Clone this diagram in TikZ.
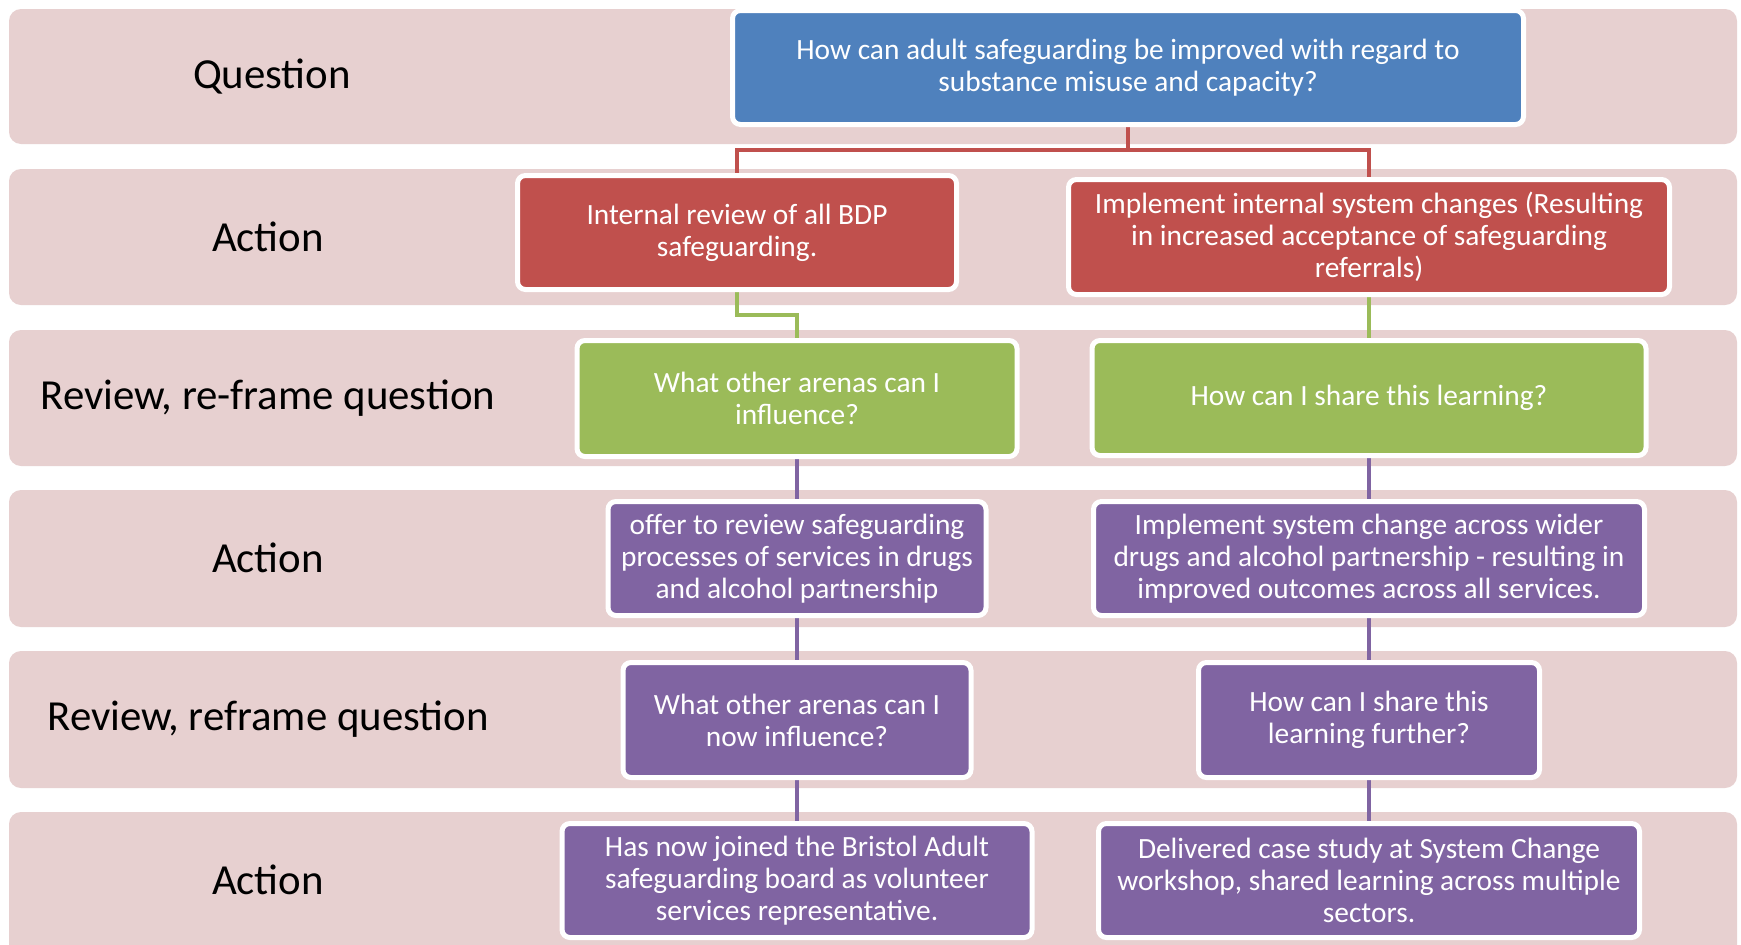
\documentclass[tikz,border=0pt]{standalone}
\usepackage{fontspec}
\setmainfont{Carlito}
\pgfdeclarelayer{bands}
\pgfdeclarelayer{links}
\pgfsetlayers{bands,links,main}
\definecolor{bandc}{RGB}{231,208,208}
\definecolor{blueb}{RGB}{79,129,189}
\definecolor{redb}{RGB}{192,80,77}
\definecolor{greenb}{RGB}{155,187,89}
\definecolor{purpb}{RGB}{128,100,162}
\begin{document}
\begin{tikzpicture}[x=1bp,y=-1bp,
  band/.style={fill=bandc, rounded corners=12bp},
  lbl/.style={font=\fontsize{43}{48}\selectfont, text=black, inner sep=0pt},
  box/.style={draw=white, line width=5bp, rounded corners=8bp, inner sep=0pt,
    align=center, text=white, font=\fontsize{29.5}{32}\selectfont},
  link/.style={line width=4.5bp},
]
\clip (0,0) rectangle (1741,944);
\begin{pgfonlayer}{bands}
\fill[white] (0,0) rectangle (1741,944);
\fill[band] (9,9) rectangle (1737,144);
\fill[band] (9,169) rectangle (1737,305);
\fill[band] (9,330) rectangle (1737,466);
\fill[band] (9,490) rectangle (1737,627);
\fill[band] (9,651) rectangle (1737,788);
\fill[band] (9,812) rectangle (1737,970);
\end{pgfonlayer}

\node[lbl] (l1) at (272,77) {Question};
\node[lbl] (l2) at (268,237) {Action};
\node[lbl] (l3) at (268,398) {Review, re-frame question};
\node[lbl] (l4) at (268,558) {Action};
\node[lbl] (l5) at (268,719) {Review, reframe question};
\node[lbl] (l6) at (268,880) {Action};

\node[box, fill=blueb, minimum width=791bp, minimum height=114bp] (blue) at (1128,67.5)
  {How can adult safeguarding be improved with regard to\\substance misuse and capacity?};
\node[box, fill=redb, minimum width=439bp, minimum height=114bp] (red1) at (737,232.5)
  {Internal review of all BDP\\safeguarding.};
\node[box, fill=redb, minimum width=601bp, minimum height=115bp] (red2) at (1369,237)
  {Implement internal system changes (Resulting\\in increased acceptance of safeguarding\\referrals)};
\node[box, fill=greenb, minimum width=440bp, minimum height=116bp] (green1) at (797,398.5)
  {What other arenas can I\\influence?};
\node[box, fill=greenb, minimum width=554bp, minimum height=115bp] (green2) at (1369,398)
  {How can I share this learning?};
\node[box, fill=purpb, minimum width=378bp, minimum height=114bp] (p1) at (797,558.5)
  {offer to review safeguarding\\processes of services in drugs\\and alcohol partnership};
\node[box, fill=purpb, minimum width=551bp, minimum height=114bp] (p2) at (1369,558.5)
  {Implement system change across wider\\drugs and alcohol partnership - resulting in\\improved outcomes across all services.};
\node[box, fill=purpb, minimum width=348bp, minimum height=115bp] (q1) at (797,720)
  {What other arenas can I\\now influence?};
\node[box, fill=purpb, minimum width=341bp, minimum height=115bp] (q2) at (1369,720)
  {How can I share this\\learning further?};
\node[box, fill=purpb, minimum width=470bp, minimum height=114bp] (a1) at (797,880.5)
  {Has now joined the Bristol Adult\\safeguarding board as volunteer\\services representative.};
\node[box, fill=purpb, minimum width=541bp, minimum height=114bp] (a2) at (1369,880.5)
  {Delivered case study at System Change\\workshop, shared learning across multiple\\sectors.};

\coordinate (rj) at (1128,150);
\coordinate (gj) at (737,315);
\begin{pgfonlayer}{links}
\draw[link, redb] (blue.south) -- (rj) -| (red1.north);
\draw[link, redb] (rj) -| (red2.north);
\draw[link, greenb] (red1.south) -- (gj) -| (green1.north);
\draw[link, greenb] (red2.south) -- (green2.north);
\draw[link, purpb] (green1.south) -- (p1.north);
\draw[link, purpb] (p1.south) -- (q1.north);
\draw[link, purpb] (q1.south) -- (a1.north);
\draw[link, purpb] (green2.south) -- (p2.north);
\draw[link, purpb] (p2.south) -- (q2.north);
\draw[link, purpb] (q2.south) -- (a2.north);
\end{pgfonlayer}
\end{tikzpicture}
\end{document}
